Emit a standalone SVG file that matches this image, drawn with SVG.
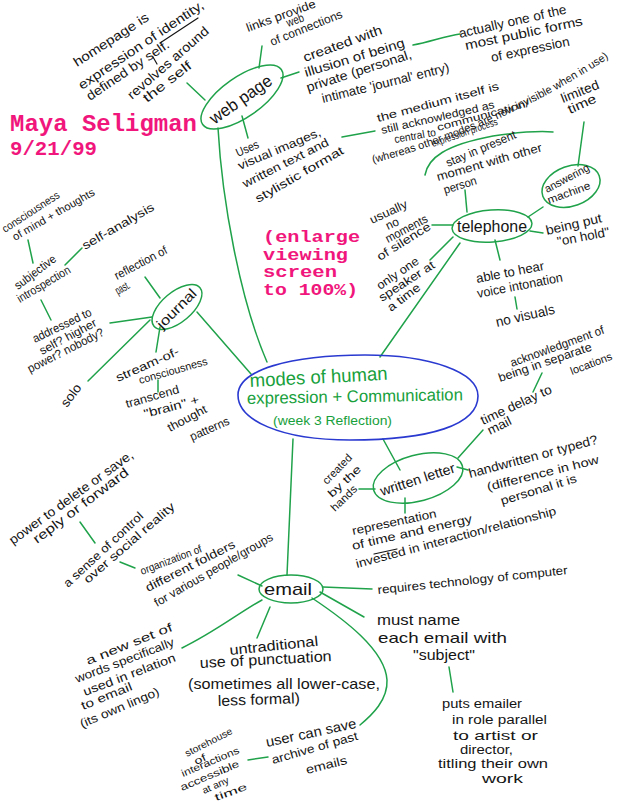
<svg xmlns="http://www.w3.org/2000/svg" width="624" height="804" viewBox="0 0 624 804">
<style>
.h{font-family:"Liberation Sans","DejaVu Sans",sans-serif;font-size:12px;fill:#151515}
.s10{font-size:10px}.s11{font-size:11px}.s13{font-size:13px}.s14{font-size:14px}.s15{font-size:15px}.s16{font-size:16px}.s17{font-size:17px}
.c{fill:none;stroke:#1fa24a;stroke-width:1.5;stroke-linecap:round}
.n{fill:none;stroke:#1fa24a;stroke-width:1.5}
.ink{fill:none;stroke:#151515;stroke-width:1.2;stroke-linecap:round}
.pk{font-family:"Liberation Mono","DejaVu Sans Mono",monospace;font-weight:bold;fill:#f0167c}
.g{font-family:"Liberation Sans","DejaVu Sans",sans-serif;fill:#17a03c}
</style>
<defs><path id="wp" d="M373,163 C420,152 520,118 613,55"/></defs>
<rect width="624" height="804" fill="#ffffff"/>

<g id="connectors">
<path class="c" d="M205,100 L187,83"/>
<path class="c" d="M259,68 L262,46"/>
<path class="c" d="M281,78 L299,72"/>
<path class="c" d="M242,116 L248,138"/>
<path class="c" d="M218,128 C222,200 240,300 267,362"/>
<path class="c" d="M413,45 C430,42 445,36 460,34"/>
<path class="c" d="M342,137 L375,131"/>
<path class="c" d="M425,175 C428,158 445,145 493,136 C520,132 540,131 553,132"/>
<path class="c" d="M467,212 L465,190"/>
<path class="c" d="M432,225 L453,225"/>
<path class="c" d="M453,237 L430,260"/>
<path class="c" d="M460,243 L380,357"/>
<path class="c" d="M495,240 L500,260"/>
<path class="c" d="M515,297 L517,309"/>
<path class="c" d="M530,231 L543,233"/>
<path class="c" d="M528,217 L543,207"/>
<path class="c" d="M578,166 L584,122"/>
<path class="c" d="M145,277 L160,298"/>
<path class="c" d="M110,323 L152,317"/>
<path class="c" d="M88,381 L150,320"/>
<path class="c" d="M160,327 L156,352"/>
<path class="c" d="M158,380 L158,392"/>
<path class="c" d="M197,312 L251,374"/>
<path class="c" d="M41,300 L51,320"/>
<path class="c" d="M28,240 L33,263"/>
<path class="c" d="M65,265 L82,248"/>
<path class="c" d="M383,439 L400,470"/>
<path class="c" d="M359,489 L375,489"/>
<path class="c" d="M458,458 L483,430"/>
<path class="c" d="M533,392 L542,373"/>
<path class="c" d="M457,467 L468,470"/>
<path class="c" d="M405,498 L405,513"/>
<path class="c" d="M293,439 L287,575"/>
<path class="c" d="M238,575 L262,586"/>
<path class="c" d="M120,562 L135,568"/>
<path class="c" d="M80,522 L95,543"/>
<path class="c" d="M323,587 L372,589"/>
<path class="c" d="M320,592 L364,617"/>
<path class="c" d="M312,598 C345,620 385,650 387,680 C388,700 372,715 360,725"/>
<path class="c" d="M270,607 L257,638"/>
<path class="c" d="M262,600 C240,612 215,632 182,648"/>
<path class="c" d="M449,667 L453,692"/>
<path class="c" d="M248,760 L268,757"/>
</g>

<g id="title">
<text class="pk" x="10" y="131" font-size="24" textLength="187" lengthAdjust="spacingAndGlyphs">Maya Seligman</text>
<text class="pk" x="10" y="155" font-size="21" textLength="87" lengthAdjust="spacingAndGlyphs">9/21/99</text>
<text class="pk" x="263" y="242" font-size="16" textLength="97" lengthAdjust="spacingAndGlyphs">(enlarge</text>
<text class="pk" x="263" y="260" font-size="16" textLength="85" lengthAdjust="spacingAndGlyphs">viewing</text>
<text class="pk" x="263" y="277" font-size="16" textLength="74" lengthAdjust="spacingAndGlyphs">screen</text>
<text class="pk" x="263" y="295" font-size="16" textLength="95" lengthAdjust="spacingAndGlyphs">to 100%)</text>
</g>

<g id="central">
<path d="M238,395 C238,370 290,355 365,355 C430,355 478,372 478,396 C478,425 430,440 350,440 C280,440 238,420 238,395 Z" fill="none" stroke="#2a3ad0" stroke-width="1.6"/>
<text class="g" font-size="19" transform="translate(250,387) rotate(-3)" textLength="138" lengthAdjust="spacingAndGlyphs">modes of human</text>
<text class="g" font-size="17" transform="translate(247,404) rotate(-1)" textLength="216" lengthAdjust="spacingAndGlyphs">expression + Communication</text>
<text class="g" font-size="12" x="273" y="425" textLength="119" lengthAdjust="spacingAndGlyphs">(week 3 Reflection)</text>
</g>

<g id="webpage">
<ellipse class="n" cx="242" cy="97" rx="48" ry="20" transform="rotate(-35 242 97)"/>
<text class="h s17" text-anchor="middle" transform="translate(244,104) rotate(-35)" textLength="72" lengthAdjust="spacingAndGlyphs">web page</text>
</g>
<g id="t-homepage">
<text class="h s13" transform="translate(77,67) rotate(-33)" textLength="87" lengthAdjust="spacingAndGlyphs">homepage is</text>
<text class="h s13" transform="translate(82,90) rotate(-34)" textLength="148" lengthAdjust="spacingAndGlyphs">expression of identity,</text>
<text class="h s13" transform="translate(90,101) rotate(-34)" textLength="97" lengthAdjust="spacingAndGlyphs">defined by self.</text>
<path class="ink" d="M160,43 L198,18"/>
<path class="ink" d="M153,57 L157,64"/>
<text class="h s13" transform="translate(132,100) rotate(-41)" textLength="103" lengthAdjust="spacingAndGlyphs">revolves around</text>
<text class="h s13" transform="translate(147,103) rotate(-38)" textLength="58" lengthAdjust="spacingAndGlyphs">the self</text>
</g>
<g id="t-links">
<text class="h" transform="translate(248,32) rotate(-20)" textLength="73" lengthAdjust="spacingAndGlyphs">links provide</text>
<text class="h" transform="translate(288,27) rotate(-20)" textLength="18" lengthAdjust="spacingAndGlyphs">web</text>
<text class="h" transform="translate(272,46) rotate(-22)" textLength="77" lengthAdjust="spacingAndGlyphs">of connections</text>
</g>
<g id="t-created">
<text class="h s13" transform="translate(305,62) rotate(-20)" textLength="83" lengthAdjust="spacingAndGlyphs">created with</text>
<text class="h s13" transform="translate(306,77) rotate(-17)" textLength="104" lengthAdjust="spacingAndGlyphs">illusion of being</text>
<text class="h s13" transform="translate(308,92) rotate(-18)" textLength="110" lengthAdjust="spacingAndGlyphs">private (personal,</text>
<text class="h s13" transform="translate(323,103) rotate(-14)" textLength="131" lengthAdjust="spacingAndGlyphs">intimate 'journal' entry)</text>
</g>
<g id="t-public">
<text class="h s13" transform="translate(460,38) rotate(-13)" textLength="110" lengthAdjust="spacingAndGlyphs">actually one of the</text>
<text class="h s13" transform="translate(466,50) rotate(-12)" textLength="120" lengthAdjust="spacingAndGlyphs">most public forms</text>
<text class="h s13" transform="translate(492,62) rotate(-12)" textLength="80" lengthAdjust="spacingAndGlyphs">of expression</text>
</g>
<g id="t-uses">
<text class="h" transform="translate(238,157) rotate(-24)" textLength="24" lengthAdjust="spacingAndGlyphs">Uses</text>
<text class="h" transform="translate(240,170) rotate(-23)" textLength="89" lengthAdjust="spacingAndGlyphs">visual images,</text>
<text class="h" transform="translate(245,188) rotate(-27)" textLength="95" lengthAdjust="spacingAndGlyphs">written text and</text>
<text class="h" transform="translate(258,203) rotate(-30)" textLength="100" lengthAdjust="spacingAndGlyphs">stylistic format</text>
</g>
<g id="t-medium">
<text class="h s11" transform="translate(378,122) rotate(-15)" textLength="126" lengthAdjust="spacingAndGlyphs">the medium itself is</text>
<text class="h s11" transform="translate(382,134) rotate(-13)" textLength="116" lengthAdjust="spacingAndGlyphs">still acknowledged as</text>
<text class="h s11" transform="translate(395,143) rotate(-10)" textLength="42" lengthAdjust="spacingAndGlyphs">central to</text>
<text class="h s10" transform="translate(438,131) rotate(-15)" textLength="95" lengthAdjust="spacingAndGlyphs">communication/</text>
<text class="h s10" transform="translate(433,147) rotate(-19)" textLength="69" lengthAdjust="spacingAndGlyphs">expression process</text>
<text class="h s11"><textPath href="#wp">(whereas other modes are now invisible when in use)</textPath></text>
</g>

<g id="telephone">
<ellipse class="n" cx="492" cy="226" rx="40" ry="16" transform="rotate(-4 492 226)"/>
<text class="h s16" text-anchor="middle" x="492" y="232" textLength="70" lengthAdjust="spacingAndGlyphs">telephone</text>
</g>
<g id="answering">
<ellipse class="n" cx="571" cy="186" rx="30" ry="20" transform="rotate(-20 571 186)"/>
<text class="h s11" transform="translate(547,193) rotate(-28)" textLength="49" lengthAdjust="spacingAndGlyphs">answering</text>
<text class="h s11" transform="translate(549,204) rotate(-20)" textLength="45" lengthAdjust="spacingAndGlyphs">machine</text>
</g>
<g id="t-limited">
<text class="h s13" transform="translate(563,103) rotate(-22)" textLength="40" lengthAdjust="spacingAndGlyphs">limited</text>
<text class="h s13" transform="translate(570,114) rotate(-24)" textLength="30" lengthAdjust="spacingAndGlyphs">time</text>
</g>
<g id="t-stay">
<text class="h" transform="translate(448,167) rotate(-23)" textLength="75" lengthAdjust="spacingAndGlyphs">stay in present</text>
<text class="h" transform="translate(438,181) rotate(-16)" textLength="109" lengthAdjust="spacingAndGlyphs">moment with other</text>
<text class="h" transform="translate(445,194) rotate(-17)" textLength="34" lengthAdjust="spacingAndGlyphs">person</text>
</g>
<g id="t-usually">
<text class="h" transform="translate(372,224) rotate(-25)" textLength="40" lengthAdjust="spacingAndGlyphs">usually</text>
<text class="h" transform="translate(388,230) rotate(-25)" textLength="13" lengthAdjust="spacingAndGlyphs">no</text>
<text class="h" transform="translate(388,243) rotate(-28)" textLength="46" lengthAdjust="spacingAndGlyphs">moments</text>
<text class="h" transform="translate(380,261) rotate(-32)" textLength="61" lengthAdjust="spacingAndGlyphs">of silence</text>
</g>
<g id="t-speaker">
<text class="h" transform="translate(380,290) rotate(-34)" textLength="48" lengthAdjust="spacingAndGlyphs">only one</text>
<text class="h" transform="translate(382,302) rotate(-33)" textLength="64" lengthAdjust="spacingAndGlyphs">speaker at</text>
<text class="h" transform="translate(391,312) rotate(-37)" textLength="38" lengthAdjust="spacingAndGlyphs">a time</text>
</g>
<g id="t-hold">
<text class="h s13" transform="translate(547,235) rotate(-13)" textLength="57" lengthAdjust="spacingAndGlyphs">being put</text>
<text class="h s13" transform="translate(558,246) rotate(-11)" textLength="53" lengthAdjust="spacingAndGlyphs">"on hold"</text>
</g>
<g id="t-voice">
<text class="h s13" transform="translate(477,283) rotate(-11)" textLength="69" lengthAdjust="spacingAndGlyphs">able to hear</text>
<text class="h s13" transform="translate(478,298) rotate(-11)" textLength="87" lengthAdjust="spacingAndGlyphs">voice intonation</text>
<text class="h s14" transform="translate(497,327) rotate(-13)" textLength="60" lengthAdjust="spacingAndGlyphs">no visuals</text>
</g>

<g id="journal">
<ellipse class="n" cx="177" cy="307" rx="30" ry="15" transform="rotate(-40 177 307)"/>
<text class="h s14" text-anchor="middle" transform="translate(180,312) rotate(-45)" textLength="50" lengthAdjust="spacingAndGlyphs">journal</text>
</g>
<g id="t-journal">
<text class="h s11" transform="translate(5,233) rotate(-33)" textLength="66" lengthAdjust="spacingAndGlyphs">consciousness</text>
<text class="h s11" transform="translate(15,241) rotate(-30)" textLength="93" lengthAdjust="spacingAndGlyphs">of mind + thoughts</text>
<text class="h" transform="translate(85,250) rotate(-30)" textLength="81" lengthAdjust="spacingAndGlyphs">self-analysis</text>
<text class="h" transform="translate(18,290) rotate(-37)" textLength="49" lengthAdjust="spacingAndGlyphs">subjective</text>
<text class="h" transform="translate(20,303) rotate(-31)" textLength="60" lengthAdjust="spacingAndGlyphs">introspection</text>
<text class="h" transform="translate(117,280) rotate(-28)" textLength="58" lengthAdjust="spacingAndGlyphs">reflection of</text>
<text class="h" transform="translate(118,295) rotate(-30)" textLength="15" lengthAdjust="spacingAndGlyphs">past.</text>
<text class="h" transform="translate(35,343) rotate(-26)" textLength="64" lengthAdjust="spacingAndGlyphs">addressed to</text>
<text class="h" transform="translate(42,355) rotate(-28)" textLength="63" lengthAdjust="spacingAndGlyphs">self? higher</text>
<text class="h" transform="translate(30,373) rotate(-27)" textLength="84" lengthAdjust="spacingAndGlyphs">power? nobody?</text>
<text class="h s13" transform="translate(67,408) rotate(-53)" textLength="25" lengthAdjust="spacingAndGlyphs">solo</text>
<text class="h" transform="translate(118,382) rotate(-24)" textLength="68" lengthAdjust="spacingAndGlyphs">stream-of-</text>
<text class="h s11" transform="translate(140,384) rotate(-16)" textLength="71" lengthAdjust="spacingAndGlyphs">consciousness</text>
<text class="h" transform="translate(127,408) rotate(-16)" textLength="55" lengthAdjust="spacingAndGlyphs">transcend</text>
<text class="h" transform="translate(145,418) rotate(-15)" textLength="57" lengthAdjust="spacingAndGlyphs">"brain" +</text>
<text class="h" transform="translate(170,432) rotate(-28)" textLength="43" lengthAdjust="spacingAndGlyphs">thought</text>
<text class="h" transform="translate(192,441) rotate(-24)" textLength="42" lengthAdjust="spacingAndGlyphs">patterns</text>
</g>

<g id="letter">
<ellipse class="n" cx="418" cy="478" rx="46" ry="23" transform="rotate(-15 418 478)"/>
<text class="h s14" text-anchor="middle" transform="translate(419,484) rotate(-18)" textLength="78" lengthAdjust="spacingAndGlyphs">written letter</text>
</g>
<g id="t-letter">
<text class="h" transform="translate(512,367) rotate(-20)" textLength="99" lengthAdjust="spacingAndGlyphs">acknowledgment of</text>
<text class="h" transform="translate(500,382) rotate(-19)" textLength="98" lengthAdjust="spacingAndGlyphs">being in separate</text>
<text class="h s11" transform="translate(572,375) rotate(-21)" textLength="44" lengthAdjust="spacingAndGlyphs">locations</text>
<text class="h s13" transform="translate(483,425) rotate(-25)" textLength="77" lengthAdjust="spacingAndGlyphs">time delay to</text>
<text class="h s13" transform="translate(490,435) rotate(-26)" textLength="25" lengthAdjust="spacingAndGlyphs">mail</text>
<text class="h s13" transform="translate(470,478) rotate(-15)" textLength="133" lengthAdjust="spacingAndGlyphs">handwritten or typed?</text>
<text class="h" transform="translate(488,491) rotate(-14)" textLength="115" lengthAdjust="spacingAndGlyphs">(difference in how</text>
<text class="h" transform="translate(502,505) rotate(-17)" textLength="79" lengthAdjust="spacingAndGlyphs">personal it is</text>
<text class="h s11" transform="translate(327,485) rotate(-46)" textLength="37" lengthAdjust="spacingAndGlyphs">created</text>
<text class="h s11" transform="translate(332,498) rotate(-43)" textLength="41" lengthAdjust="spacingAndGlyphs">by the</text>
<text class="h s11" transform="translate(335,512) rotate(-44)" textLength="32" lengthAdjust="spacingAndGlyphs">hands</text>
<text class="h" transform="translate(353,535) rotate(-12)" textLength="86" lengthAdjust="spacingAndGlyphs">representation</text>
<text class="h" transform="translate(353,550) rotate(-13)" textLength="123" lengthAdjust="spacingAndGlyphs">of time and energy</text>
<path class="ink" d="M374,554 L397,549"/>
<text class="h" transform="translate(357,568) rotate(-15)" textLength="207" lengthAdjust="spacingAndGlyphs">invested in interaction/relationship</text>
</g>

<g id="email">
<ellipse class="n" cx="291" cy="589" rx="32" ry="14"/>
<text class="h s17" text-anchor="middle" x="288" y="595" textLength="48" lengthAdjust="spacingAndGlyphs">email</text>
</g>
<g id="t-email">
<text class="h s13" transform="translate(13,545) rotate(-36)" textLength="150" lengthAdjust="spacingAndGlyphs">power to delete or save,</text>
<text class="h s13" transform="translate(37,544) rotate(-37)" textLength="116" lengthAdjust="spacingAndGlyphs">reply or forward</text>
<text class="h" transform="translate(68,588) rotate(-43)" textLength="104" lengthAdjust="spacingAndGlyphs">a sense of control</text>
<text class="h" transform="translate(88,584) rotate(-41)" textLength="116" lengthAdjust="spacingAndGlyphs">over social reality</text>
<text class="h s11" transform="translate(142,575) rotate(-21)" textLength="65" lengthAdjust="spacingAndGlyphs">organization of</text>
<text class="h" transform="translate(148,592) rotate(-27)" textLength="99" lengthAdjust="spacingAndGlyphs">different folders</text>
<text class="h" transform="translate(157,607) rotate(-30)" textLength="135" lengthAdjust="spacingAndGlyphs">for various people/groups</text>
<text class="h" transform="translate(88,665) rotate(-22)" textLength="92" lengthAdjust="spacingAndGlyphs">a new set of</text>
<text class="h" transform="translate(77,683) rotate(-21)" textLength="105" lengthAdjust="spacingAndGlyphs">words specifically</text>
<text class="h" transform="translate(85,696) rotate(-21)" textLength="98" lengthAdjust="spacingAndGlyphs">used in relation</text>
<text class="h" transform="translate(83,710) rotate(-22)" textLength="54" lengthAdjust="spacingAndGlyphs">to email</text>
<text class="h" transform="translate(82,728) rotate(-23)" textLength="85" lengthAdjust="spacingAndGlyphs">(its own lingo)</text>
<text class="h s14" transform="translate(230,655) rotate(-6)" textLength="89" lengthAdjust="spacingAndGlyphs">untraditional</text>
<text class="h s15" transform="translate(200,668) rotate(-3)" textLength="132" lengthAdjust="spacingAndGlyphs">use of punctuation</text>
<text class="h s15" x="188" y="689" textLength="192" lengthAdjust="spacingAndGlyphs">(sometimes all lower-case,</text>
<text class="h s15" transform="translate(218,706) rotate(-2)" textLength="82" lengthAdjust="spacingAndGlyphs">less formal)</text>
<text class="h" transform="translate(378,594) rotate(-6)" textLength="191" lengthAdjust="spacingAndGlyphs">requires technology of computer</text>
<text class="h s15" x="377" y="625" textLength="83" lengthAdjust="spacingAndGlyphs">must name</text>
<text class="h s15" x="378" y="643" textLength="129" lengthAdjust="spacingAndGlyphs">each email with</text>
<text class="h s15" x="413" y="660" textLength="62" lengthAdjust="spacingAndGlyphs">"subject"</text>
<text class="h" x="442" y="708" textLength="80" lengthAdjust="spacingAndGlyphs">puts emailer</text>
<text class="h" x="452" y="724" textLength="95" lengthAdjust="spacingAndGlyphs">in role parallel</text>
<text class="h" x="453" y="740" textLength="85" lengthAdjust="spacingAndGlyphs">to artist or</text>
<text class="h" x="460" y="754" textLength="53" lengthAdjust="spacingAndGlyphs">director,</text>
<text class="h" x="438" y="768" textLength="110" lengthAdjust="spacingAndGlyphs">titling their own</text>
<text class="h" x="482" y="783" textLength="41" lengthAdjust="spacingAndGlyphs">work</text>
<text class="h s14" transform="translate(267,747) rotate(-12)" textLength="92" lengthAdjust="spacingAndGlyphs">user can save</text>
<text class="h" transform="translate(273,764) rotate(-16)" textLength="89" lengthAdjust="spacingAndGlyphs">archive of past</text>
<text class="h" transform="translate(307,774) rotate(-14)" textLength="42" lengthAdjust="spacingAndGlyphs">emails</text>
<text class="h s10" transform="translate(187,757) rotate(-27)" textLength="52" lengthAdjust="spacingAndGlyphs">storehouse</text>
<text class="h s10" transform="translate(196,765) rotate(-25)" textLength="12" lengthAdjust="spacingAndGlyphs">of</text>
<text class="h s10" transform="translate(183,777) rotate(-23)" textLength="62" lengthAdjust="spacingAndGlyphs">interactions</text>
<text class="h s10" transform="translate(182,791) rotate(-23)" textLength="63" lengthAdjust="spacingAndGlyphs">accessible</text>
<text class="h s10" transform="translate(204,794) rotate(-24)" textLength="28" lengthAdjust="spacingAndGlyphs">at any</text>
<text class="h s10" transform="translate(216,801) rotate(-20)" textLength="34" lengthAdjust="spacingAndGlyphs">time</text>
</g>
</svg>
